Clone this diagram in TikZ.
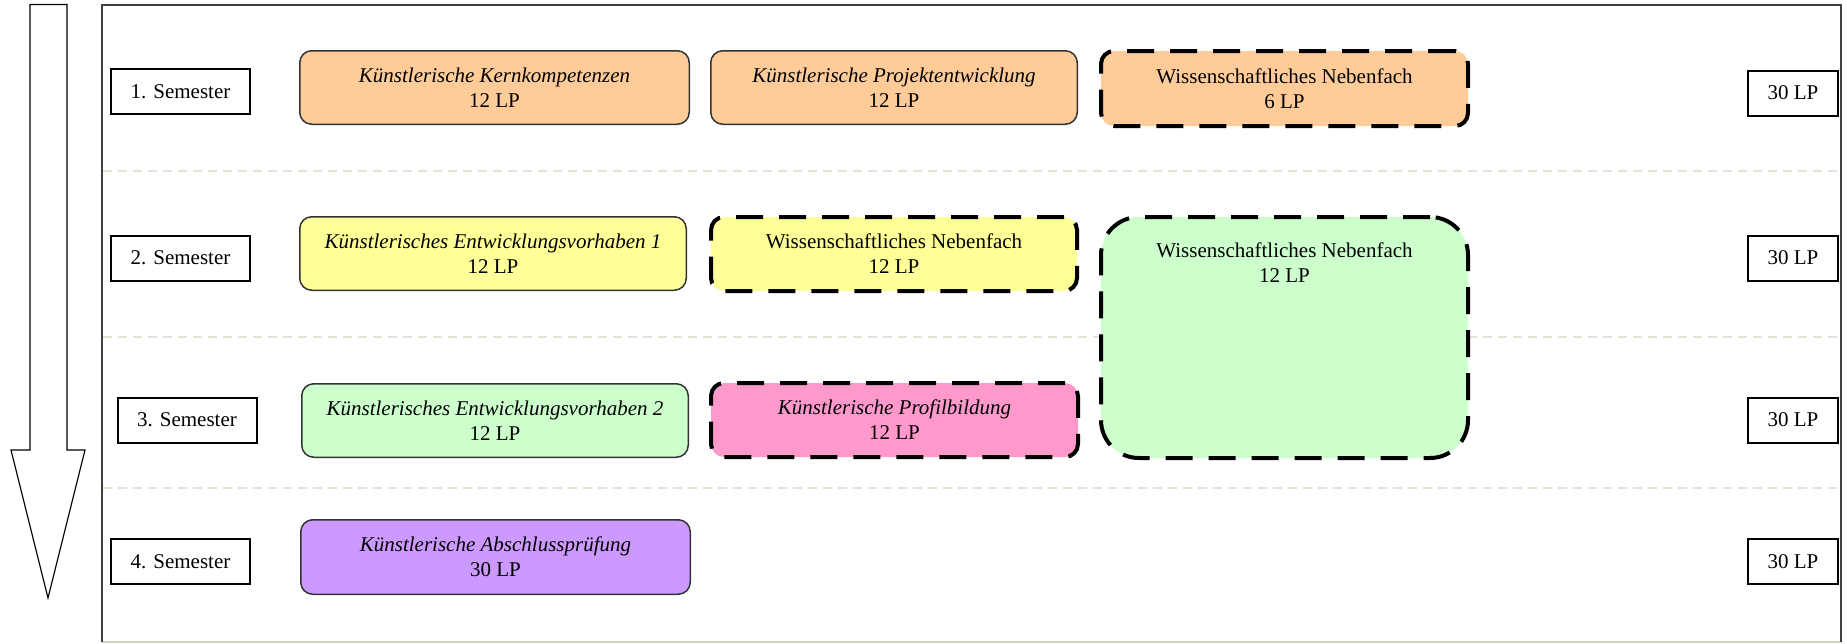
\documentclass[tikz,border=0pt]{standalone}
\usepackage{fontspec}
\setmainfont{Liberation Serif}
\definecolor{cOrange}{RGB}{255,204,153}
\definecolor{cYellow}{RGB}{255,255,153}
\definecolor{cGreen}{RGB}{204,255,204}
\definecolor{cPink}{RGB}{255,153,204}
\definecolor{cPurple}{RGB}{204,153,255}
\definecolor{cSep}{RGB}{230,226,214}
\definecolor{cFrame}{RGB}{64,64,64}
\definecolor{cEdge}{RGB}{51,51,51}
\begin{document}
\begin{tikzpicture}[x=1pt,y=-1pt,
  txt/.style={font=\fontsize{21}{25}\selectfont, align=center},
  modbox/.style={txt, draw=cEdge, line width=1.5pt, rounded corners=12pt, inner sep=0pt},
  nfbox/.style={txt, draw=black, line width=4pt, dash pattern=on 27pt off 16pt, rounded corners=13pt, inner sep=0pt},
  sembox/.style={txt, draw=black, line width=2pt, fill=white, minimum width=139pt, minimum height=45pt, inner sep=0pt},
  lpbox/.style={txt, draw=black, line width=2pt, fill=white, minimum width=90pt, minimum height=45pt, inner sep=0pt},
  sepline/.style={draw=cSep, line width=1.5pt, dash pattern=on 9pt off 6pt}]
\useasboundingbox (0,0) rectangle (1847,643);

% time arrow
\draw[line width=1.2pt, fill=white] (30,4.5) -- (67,4.5) -- (67,450) -- (85,450) -- (48,598) -- (11,450) -- (30,450) -- cycle;

% frame
\coordinate (fTL) at (102,4.5);
\coordinate (fTR) at (1841,4.5);
\coordinate (fBL) at (102,642);
\coordinate (fBR) at (1841,642);
\draw[draw=cSep!80!gray, line width=1.5pt] (fBL) -- (fBR);
\draw[draw=cFrame, line width=2pt] (fBL) -- (fTL) -- (fTR) -- (fBR);

% row separators
\draw[sepline] (103,171) -- (1840,171);
\draw[sepline] (103,337) -- (1840,337);
\draw[sepline] (103,488) -- (1840,488);

% semester labels
\node (s1) [sembox] at (180.5,91.5) {1. Semester};
\node (s2) [sembox] at (180.5,258) {2. Semester};
\node (s3) [sembox] at (187,420) {3. Semester};
\node (s4) [sembox] at (180.5,561.5) {4. Semester};

% credit totals
\node (lp1) [lpbox] at (1793,93) {30 LP};
\node (lp2) [lpbox] at (1793,258) {30 LP};
\node (lp3) [lpbox] at (1793,420) {30 LP};
\node (lp4) [lpbox] at (1793,561.5) {30 LP};

% semester 1
\node (kk) [modbox, fill=cOrange, minimum width=389.5pt, minimum height=73.5pt] at (494.5,87.5) {{\itshape Künstlerische Kernkompetenzen}\\12 LP};
\node (kp) [modbox, fill=cOrange, minimum width=366.5pt, minimum height=73.5pt] at (894,87.5) {{\itshape Künstlerische Projektentwicklung}\\12 LP};
\node (wn1) [nfbox, fill=cOrange, minimum width=367pt, minimum height=75pt] at (1284.5,88.5) {Wissenschaftliches Nebenfach\\6 LP};

% semester 2
\node (ke1) [modbox, fill=cYellow, minimum width=386.5pt, minimum height=73.5pt] at (493,253.5) {{\itshape Künstlerisches Entwicklungsvorhaben 1}\\12 LP};
\node (wn2) [nfbox, fill=cYellow, minimum width=366pt, minimum height=74pt] at (894,254) {Wissenschaftliches Nebenfach\\12 LP};
\node (wn3) [nfbox, fill=cGreen, rounded corners=38pt, minimum width=367pt, minimum height=241pt,
  label={[txt, anchor=north, yshift=-24pt]north:Wissenschaftliches Nebenfach\\12 LP}] at (1284.5,337.5) {};

% semester 3
\node (ke2) [modbox, fill=cGreen, minimum width=386.5pt, minimum height=73.5pt] at (495,420.5) {{\itshape Künstlerisches Entwicklungsvorhaben 2}\\12 LP};
\node (pb) [nfbox, fill=cPink, minimum width=367pt, minimum height=74pt] at (894.5,420) {{\itshape Künstlerische Profilbildung}\\12 LP};

% semester 4
\node (ka) [modbox, fill=cPurple, minimum width=389.5pt, minimum height=74.5pt] at (495.5,557) {{\itshape Künstlerische Abschlussprüfung}\\30 LP};
\end{tikzpicture}
\end{document}
